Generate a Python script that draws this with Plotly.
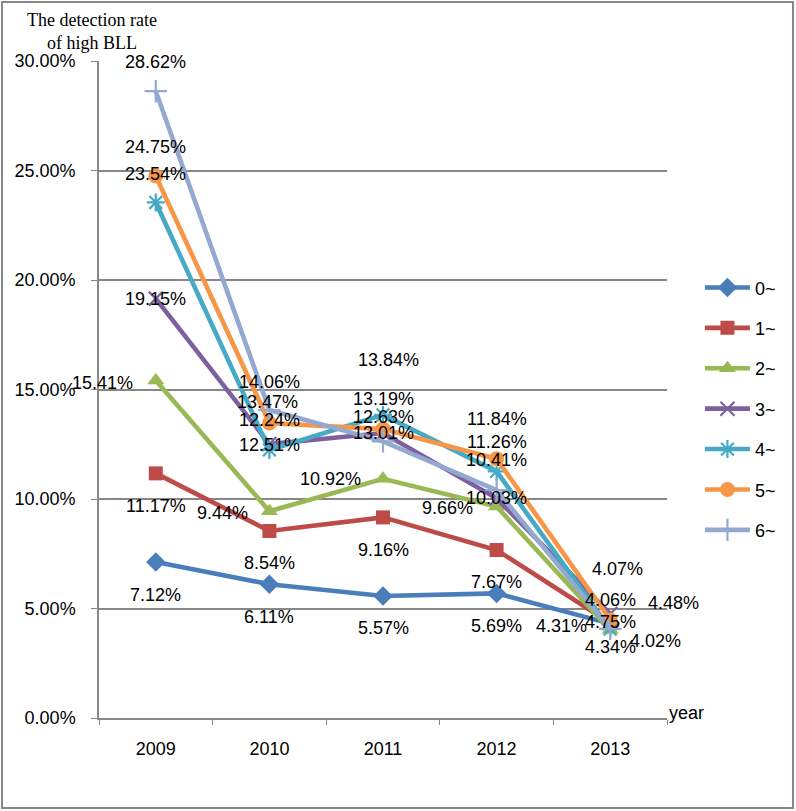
import plotly.graph_objects as go

years = ["2009", "2010", "2011", "2012", "2013"]
series_names = ["0~", "1~", "2~", "3~", "4~", "5~", "6~"]
age0 = [7.12, 6.11, 5.57, 5.69, 4.31]
age1 = [11.17, 8.54, 9.16, 7.67, 4.34]
age2 = [15.41, 9.44, 10.92, 9.66, 4.02]
age3 = [19.15, 12.51, 13.01, 10.03, 4.75]
age4 = [23.54, 12.24, 13.84, 11.26, 4.06]
age5 = [24.75, 13.47, 13.19, 11.84, 4.48]
age6 = [28.62, 14.06, 12.63, 10.41, 4.07]
y_ticks = [0, 5, 10, 15, 20, 25, 30]

series_values = [age0, age1, age2, age3, age4, age5, age6]

# styles
colors = ["#4A7EBB", "#BE4B48", "#98B954", "#7D60A0", "#46AAC5", "#F79646", "#93A9D0"]
symbols = ["diamond", "square", "triangle-up", "x-thin", "asterisk", "circle", "cross-thin"]
msizes = [15, 14, 15, 14, 15, 15, 16]
# label offsets in px (dx right, dy down) per series/point
label_dx = [
    [0, 0, 0, 0, -49],
    [0, 0, 0, 0, 0],
    [-53, -47, -53, -49, 45],
    [0, 0, 0, 0, 0],
    [0, 0, 5, 0, 0],
    [0, -2, 0, 0, 63],
    [0, 0, 0, 0, 7],
]
label_dy = [
    [33, 33, 32, 33, 2],
    [33, 32, 33, 32, 24],
    [2, 2, 0, 2, 11],
    [0, 1, 0, 0, 8],
    [-28, -30, -55, -29, -29],
    [-29, -21, -30, -40, -17],
    [-29, -28, -24, -30, -60],
]

FONT = "Liberation Sans, Arial, sans-serif"
GRAY = "#878787"

fig = go.Figure()
for i, (name, vals) in enumerate(zip(series_names, series_values)):
    thin = symbols[i].endswith("thin") or symbols[i] == "asterisk"
    marker = dict(symbol=symbols[i], size=msizes[i], color=colors[i])
    if thin:
        marker["line"] = dict(color=colors[i], width=2.2)
    else:
        marker["line"] = dict(width=0)
    fig.add_trace(go.Scatter(
        x=years, y=vals, name=name, mode="lines+markers",
        line=dict(color=colors[i], width=4.6),
        marker=marker, legendgroup=name,
        hoverinfo="skip",
    ))

annotations = []
for i, vals in enumerate(series_values):
    for j, v in enumerate(vals):
        annotations.append(dict(
            x=j, y=v, xref="x", yref="y",
            text=f"{v:.2f}%", showarrow=False,
            xshift=label_dx[i][j], yshift=-label_dy[i][j],
            xanchor="center", yanchor="middle",
            font=dict(family=FONT, size=18, color="#000000"),
        ))

annotations.append(dict(
    x=-0.012, y=1.045, xref="paper", yref="paper",
    text="The detection rate<br>of high BLL", showarrow=False,
    xanchor="center", yanchor="middle", align="center",
    font=dict(family="Liberation Serif, Times New Roman, serif", size=18, color="#000000"),
))
annotations.append(dict(
    x=1.0, y=0.008, xref="paper", yref="paper",
    text="year", showarrow=False, xanchor="left", yanchor="middle",
    font=dict(family=FONT, size=18, color="#000000"),
))

fig.update_layout(
    width=796, height=811,
    margin=dict(l=99, r=129, t=61, b=93, pad=0),
    paper_bgcolor="white", plot_bgcolor="white",
    showlegend=True,
    legend=dict(
        x=1.058, y=0.683, xanchor="left", yanchor="top",
        font=dict(family=FONT, size=18, color="#000000"),
        tracegroupgap=14, itemwidth=45, bgcolor="rgba(0,0,0,0)",
    ),
    annotations=annotations,
    shapes=[dict(
        type="rect", xref="paper", yref="paper",
        x0=-0.1708, x1=1.2218, y0=-0.137, y1=1.0898,
        line=dict(color=GRAY, width=2), fillcolor="rgba(0,0,0,0)", layer="below",
    )],
)
fig.update_xaxes(
    type="category", categoryorder="array", categoryarray=years,
    range=[-0.5, 4.5], tickson="boundaries", ticks="outside", ticklen=5,
    tickcolor=GRAY, showline=True, linecolor=GRAY, linewidth=1.5,
    showgrid=False, zeroline=False, ticklabelstandoff=14,
    tickfont=dict(family=FONT, size=18, color="#000000"),
)
fig.update_yaxes(
    range=[0, 30], tickmode="array", tickvals=y_ticks,
    ticktext=[f"{t:.2f}%" for t in y_ticks],
    ticks="outside", ticklen=6, tickcolor=GRAY, showline=True, linecolor=GRAY,
    linewidth=1.5, showgrid=True, gridcolor=GRAY, gridwidth=1.5, zeroline=False,
    ticklabelstandoff=12,
    tickfont=dict(family=FONT, size=18, color="#000000"),
)

fig.write_html("out.html", config={"displayModeBar": False},
               post_script="document.body.style.margin='0';")
